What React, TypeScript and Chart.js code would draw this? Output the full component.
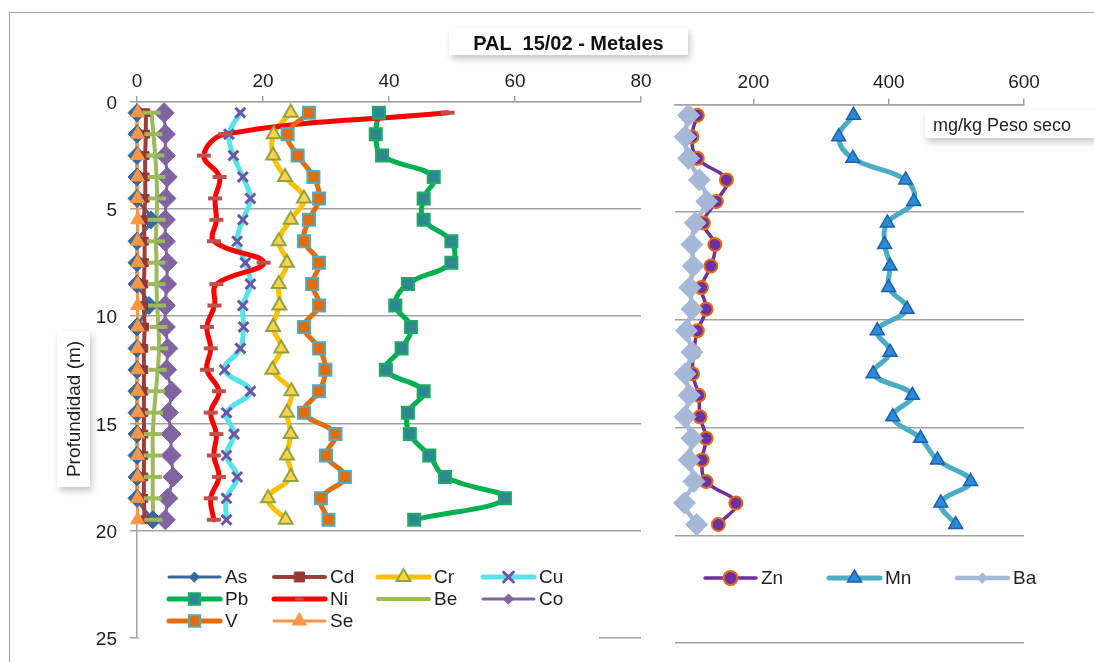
import React, { useEffect, useRef } from 'react';
import { Chart, registerables, PointElement } from 'chart.js';

Chart.register(...registerables);

// Sampling depths (m)
const depth = [0.5, 1.5, 2.5, 3.5, 4.5, 5.5, 6.5, 7.5, 8.5, 9.5, 10.5, 11.5, 12.5, 13.5, 14.5, 15.5, 16.5, 17.5, 18.5, 19.5];

// Metal concentrations, mg/kg dry weight
const asVals = [0, 0, 0, 0, 0, 2.2, 0, 0, 0, 1.9, 0, 0, 0, 0, 0, 0, 0, 0, 0, 2.5];
const cdVals = [1.4, 1.4, 1.3, 1.3, 1.3, 1.1, 1.2, 1.2, 1.1, 1.1, 1.2, 1.1, 1.1, 1.1, 1.1, 1.1, 1.1, 1.1, 1.1, 1.2];
const crVals = [24.4, 21.7, 21.6, 23.5, 26.5, 24.4, 22.5, 23.8, 22.5, 22.6, 21.6, 22.9, 21.5, 24.5, 23.8, 24.4, 23.8, 24.4, 20.8, 23.6];
const cuVals = [16.4, 14.6, 15.3, 16.8, 18.0, 16.8, 15.9, 17.2, 18.0, 16.8, 16.9, 16.4, 13.9, 18.0, 14.2, 15.4, 14.2, 15.9, 14.2, 14.2];
const pbVals = [38.4, 37.9, 38.9, 47.1, 45.5, 45.5, 49.9, 49.9, 43.0, 41.0, 43.5, 42.0, 39.5, 45.5, 43.0, 43.3, 46.4, 48.9, 58.4, 44.0];
const niVals = [49.3, 14.0, 10.6, 13.1, 12.4, 12.6, 12.2, 20.1, 12.6, 12.3, 11.1, 11.7, 11.1, 13.0, 11.7, 12.6, 12.2, 13.0, 11.7, 12.2];
const beVals = [2.3, 2.6, 2.9, 3.1, 3.2, 3.1, 3.0, 3.1, 3.1, 3.2, 3.4, 3.5, 3.3, 3.0, 2.7, 2.5, 2.5, 2.5, 2.5, 2.6];
const coVals = [4.3, 4.5, 4.5, 4.8, 4.6, 4.5, 4.5, 4.8, 4.7, 4.5, 4.5, 4.9, 4.7, 5.5, 5.0, 5.4, 5.4, 5.7, 4.9, 4.5];
const vVals = [27.3, 23.9, 25.5, 28.0, 28.9, 27.3, 26.5, 28.9, 27.8, 28.9, 26.5, 28.9, 29.9, 28.9, 26.5, 31.5, 30.0, 33.0, 29.2, 30.4];
const seVals = [0.1, 0.1, 0.1, 0.1, 0.1, 0.1, 0.1, 0.1, 0.1, 0.1, 0.1, 0.1, 0.1, 0.1, 0.1, 0.1, 0.1, 0.1, 0.1, 0.1];

const znVals = [117, 109, 117, 160, 145, 126, 143, 137, 123, 130, 117, 112, 110, 119, 121, 130, 124, 130, 174, 148];
const mnVals = [348, 326, 347, 425, 437, 398, 394, 402, 400, 427, 383, 402, 377, 435, 406, 447, 472, 521, 477, 499];
const baVals = [104, 99, 104, 120, 131, 114, 109, 111, 106, 109, 101, 109, 99, 105, 99, 109, 105, 112, 98, 116];

// Axis ranges and ticks
const leftXMin = 0;
const leftXMax = 80;
const leftXStep = 20;
const rightXMin = 84;
const rightXMax = 600;
const rightXTicks = [200, 400, 600];
const depthMin = 0;
const depthMax = 25;
const depthStep = 5;

const titleText = 'PAL  15/02 - Metales';
const unitText = 'mg/kg Peso seco';
const depthTitle = 'Profundidad (m)';

const FONT = '"Liberation Sans", Arial, Helvetica, sans-serif';
const GRID = '#a3a3a3';
const TEXT = '#1e1e1e';

type Series = {
  label: string;
  values: number[];
  color: string;
  width: number;
  marker: string | false;
  radius: number;
  fill: string;
  stroke: string;
  mw: number;
  legendRadius: number;
  markerOnTop?: boolean;
};

const leftSeries: Series[] = [
  { label: 'As', values: asVals, color: '#3A679C', width: 3, marker: 'rectRot', radius: 9, fill: '#3A679C', stroke: '#3A679C', mw: 1, legendRadius: 5 },
  { label: 'Cd', values: cdVals, color: '#9E3C3A', width: 4, marker: 'rect', radius: 5.5, fill: '#953735', stroke: '#953735', mw: 1, legendRadius: 7 },
  { label: 'Cr', values: crVals, color: '#FFC000', width: 5, marker: 'triangle', radius: 8, fill: '#FFD24D', stroke: '#8FA33F', mw: 2, legendRadius: 8 },
  { label: 'Cu', values: cuVals, color: '#55E4EA', width: 5, marker: 'crossRot', radius: 7, fill: '#6A58A6', stroke: '#6A58A6', mw: 3, legendRadius: 7 },
  { label: 'Pb', values: pbVals, color: '#00B050', width: 5, marker: 'rect', radius: 8.5, fill: '#2E8891', stroke: '#1EAA64', mw: 2, legendRadius: 8 },
  { label: 'Ni', values: niVals, color: '#FF0000', width: 5, marker: 'line', radius: 7, fill: '#C0504D', stroke: '#C0504D', mw: 4, legendRadius: 3 },
  { label: 'Be', values: beVals, color: '#9BBB59', width: 4, marker: 'line', radius: 9, fill: '#9BBB59', stroke: '#9BBB59', mw: 4, legendRadius: 0, markerOnTop: true },
  { label: 'Co', values: coVals, color: '#8064A2', width: 3, marker: 'rectRot', radius: 10, fill: '#8064A2', stroke: '#8064A2', mw: 1, legendRadius: 5 },
  { label: 'V', values: vVals, color: '#E46C0A', width: 5, marker: 'rect', radius: 8.5, fill: '#E46C0A', stroke: '#4BACC6', mw: 2, legendRadius: 8 },
  { label: 'Se', values: seVals, color: '#F79646', width: 3, marker: 'triangle', radius: 8, fill: '#F79646', stroke: '#F79646', mw: 1, legendRadius: 8 },
];

const rightSeries: Series[] = [
  { label: 'Zn', values: znVals, color: '#7030A0', width: 3.5, marker: 'circle', radius: 6.5, fill: '#7030A0', stroke: '#E46C0A', mw: 2, legendRadius: 7 },
  { label: 'Mn', values: mnVals, color: '#4BACC6', width: 5, marker: 'triangle', radius: 8, fill: '#2A8BD8', stroke: '#1F5FAD', mw: 1.5, legendRadius: 8 },
  { label: 'Ba', values: baVals, color: '#A5B8D8', width: 4.5, marker: 'rectRot', radius: 11, fill: '#A5B8D8', stroke: '#A5B8D8', mw: 1, legendRadius: 5 },
];

// Lines are drawn first for every series, markers on top of all lines.
function buildDatasets(series: Series[]) {
  const n = series.length;
  const lines = series.map((s, i) => ({
    label: s.label,
    data: depth.map((d, k) => ({ x: s.values[k], y: d })),
    borderColor: s.color,
    backgroundColor: s.color,
    borderWidth: s.width,
    pointRadius: 0,
    tension: 0.4,
    fill: false,
    clip: false as const,
    borderCapStyle: 'round' as const,
    borderJoinStyle: 'round' as const,
    order: 1000 + (n - i),
  }));
  const marks = series
    .filter((s) => s.marker)
    .map((s) => {
      const i = series.indexOf(s);
      return {
        label: s.label + ' marker',
        data: depth.map((d, k) => ({ x: s.values[k], y: d })),
        showLine: false,
        clip: false as const,
        pointStyle: s.marker as any,
        pointRadius: s.radius,
        pointBackgroundColor: s.fill,
        pointBorderColor: s.stroke,
        pointBorderWidth: s.mw,
        order: s.markerOnTop ? -1 : n - i,
      };
    });
  return [...lines, ...marks];
}

type LegendItem = { s: Series; x: number; y: number };

function legendPlugin(id: string, items: LegendItem[], box?: { x: number; y: number; w: number; h: number }) {
  return {
    id,
    afterDraw(chart: Chart) {
      const ctx = chart.ctx;
      ctx.save();
      if (box) {
        ctx.fillStyle = '#ffffff';
        ctx.fillRect(box.x, box.y, box.w, box.h);
      }
      for (const { s, x, y } of items) {
        ctx.strokeStyle = s.color;
        ctx.lineWidth = s.width;
        ctx.lineCap = 'round';
        ctx.beginPath();
        ctx.moveTo(x + 2, y);
        ctx.lineTo(x + 53, y);
        ctx.stroke();
        if (s.marker && s.legendRadius > 0) {
          const pt = new PointElement({
            x: x + 27.5,
            y,
            options: {
              pointStyle: s.marker,
              radius: s.legendRadius,
              borderWidth: s.marker === 'line' ? 3 : s.mw,
              borderColor: s.stroke,
              backgroundColor: s.fill,
              rotation: 0,
            },
          } as any);
          pt.draw(ctx, { left: -1e4, top: -1e4, right: 1e4, bottom: 1e4, width: 2e4, height: 2e4 } as any);
        }
        ctx.fillStyle = TEXT;
        ctx.font = `19px ${FONT}`;
        ctx.textBaseline = 'middle';
        ctx.textAlign = 'left';
        ctx.fillText(s.label, x + 58, y + 1);
      }
      ctx.restore();
    },
  };
}

const tickFont = { family: FONT, size: 19 };

function MetalProfile() {
  const leftRef = useRef<HTMLCanvasElement>(null);
  const rightRef = useRef<HTMLCanvasElement>(null);

  useEffect(() => {
    Chart.defaults.font.family = FONT;

    const leftCols = [167, 272, 376, 481];
    const leftRows = [577, 599, 621];
    const leftItems: LegendItem[] = leftSeries.map((s, i) => ({
      s,
      x: leftCols[i % 4],
      y: leftRows[Math.floor(i / 4)],
    }));

    const left = new Chart(leftRef.current!, {
      type: 'line',
      data: { datasets: buildDatasets(leftSeries) as any },
      options: {
        animation: false,
        responsive: false,
        maintainAspectRatio: false,
        events: [],
        layout: { padding: { left: 0, top: 0, right: 19, bottom: 19 } },
        plugins: { legend: { display: false }, tooltip: { enabled: false }, title: { display: false } },
        scales: {
          x: {
            type: 'linear',
            position: 'top',
            min: leftXMin,
            max: leftXMax,
            ticks: { stepSize: leftXStep, font: tickFont, color: TEXT, padding: 3, maxRotation: 0 },
            grid: { drawOnChartArea: false, drawTicks: true, tickLength: 6, color: GRID, lineWidth: 1.5 },
            border: { display: true, color: GRID, width: 1.5 },
            afterFit: (s: any) => {
              s.height = 102;
            },
          },
          y: {
            type: 'linear',
            reverse: true,
            min: depthMin,
            max: depthMax,
            ticks: { stepSize: depthStep, font: tickFont, color: TEXT, padding: 13, labelOffset: 2 },
            grid: { drawOnChartArea: true, drawTicks: true, tickLength: 7, color: GRID, lineWidth: 1.5 },
            border: { display: true, color: GRID, width: 1.5 },
            afterFit: (s: any) => {
              s.width = 137;
            },
          },
        },
      },
      plugins: [legendPlugin('leftLegend', leftItems, { x: 139, y: 552, w: 460, h: 105 })],
    });

    const rightItems: LegendItem[] = rightSeries.map((s, i) => ({
      s,
      x: [43, 167, 295][i],
      y: 578,
    }));

    const right = new Chart(rightRef.current!, {
      type: 'line',
      data: { datasets: buildDatasets(rightSeries) as any },
      options: {
        animation: false,
        responsive: false,
        maintainAspectRatio: false,
        events: [],
        layout: { padding: { left: 0, top: 0, right: 70, bottom: 19 } },
        plugins: { legend: { display: false }, tooltip: { enabled: false }, title: { display: false } },
        scales: {
          x: {
            type: 'linear',
            position: 'top',
            min: rightXMin,
            max: rightXMax,
            afterBuildTicks: (s: any) => {
              s.ticks = rightXTicks.map((v) => ({ value: v }));
            },
            ticks: { font: tickFont, color: TEXT, padding: 4, maxRotation: 0 },
            grid: { drawOnChartArea: false, drawTicks: true, tickLength: 6, color: GRID, lineWidth: 1.5 },
            border: { display: true, color: GRID, width: 1.5 },
            afterFit: (s: any) => {
              s.height = 104.5;
            },
          },
          y: {
            type: 'linear',
            reverse: true,
            min: depthMin,
            max: depthMax,
            ticks: { stepSize: depthStep, display: false },
            grid: { drawOnChartArea: true, drawTicks: false, color: GRID, lineWidth: 1.5 },
            border: { display: false },
            afterFit: (s: any) => {
              s.width = 15;
            },
          },
        },
      },
      plugins: [legendPlugin('rightLegend', rightItems)],
    });

    return () => {
      left.destroy();
      right.destroy();
    };
  }, []);

  const shadow = '2px 4px 7px rgba(0,0,0,0.22)';

  return (
    <div
      style={{
        position: 'absolute',
        left: 0,
        top: 0,
        width: 1094,
        height: 662,
        overflow: 'hidden',
        background: '#ffffff',
        fontFamily: FONT,
      }}
    >
      <div
        style={{
          position: 'absolute',
          left: 9,
          top: 12,
          width: 1200,
          height: 800,
          border: '1.5px solid #a6a6a6',
          boxSizing: 'border-box',
        }}
      />
      <canvas ref={leftRef} width={660} height={662} style={{ position: 'absolute', left: 0, top: 0 }} />
      <canvas ref={rightRef} width={434} height={662} style={{ position: 'absolute', left: 660, top: 0 }} />
      <div
        style={{
          position: 'absolute',
          left: 449,
          top: 28,
          width: 239,
          height: 27,
          background: '#ffffff',
          boxShadow: shadow,
          fontWeight: 'bold',
          fontSize: 20,
          color: '#111',
          textAlign: 'center',
          lineHeight: '31px',
          whiteSpace: 'pre',
        }}
      >
        {titleText}
      </div>
      <div
        style={{
          position: 'absolute',
          left: 925,
          top: 110,
          width: 200,
          height: 28,
          background: '#ffffff',
          boxShadow: shadow,
          fontSize: 18,
          color: TEXT,
          lineHeight: '30px',
          paddingLeft: 8,
          boxSizing: 'border-box',
          whiteSpace: 'nowrap',
        }}
      >
        {unitText}
      </div>
      <div
        style={{
          position: 'absolute',
          left: 57,
          top: 331,
          width: 33,
          height: 156,
          background: '#ffffff',
          boxShadow: shadow,
        }}
      >
        <div
          style={{
            position: 'absolute',
            left: '50%',
            top: '50%',
            transform: 'translate(-50%, -50%) rotate(-90deg)',
            fontSize: 19,
            color: TEXT,
            whiteSpace: 'nowrap',
          }}
        >
          {depthTitle}
        </div>
      </div>
    </div>
  );
}

export default function App() {
  return <MetalProfile />;
}
